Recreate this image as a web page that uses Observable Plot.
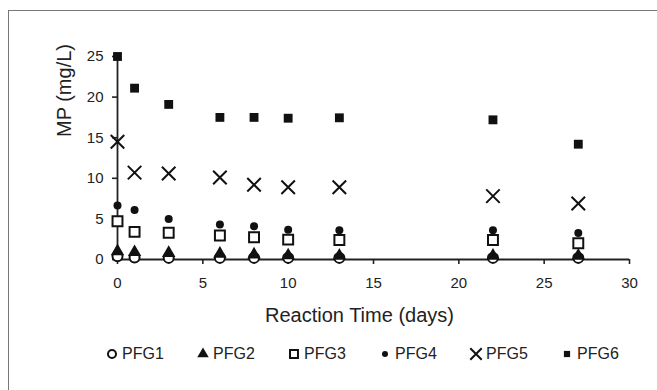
<!DOCTYPE html>
<html><head><meta charset="utf-8">
<script src="https://cdn.jsdelivr.net/npm/d3@7"></script>
<script src="https://cdn.jsdelivr.net/npm/@observablehq/plot@0.6"></script>
<style>
body{margin:0;background:#fff;font-family:"Liberation Sans",Arial,sans-serif;}
#wrap{position:relative;width:657px;height:390px;overflow:hidden;background:#fff;}
#frame{position:absolute;left:8px;top:10px;width:700px;height:420px;border-left:1.5px solid #777;border-top:1.5px solid #777;pointer-events:none;}
#chart{position:absolute;left:0;top:0;}
#legend{position:absolute;left:0;top:344px;width:657px;height:20px;font-size:16px;color:#222;}
.item{position:absolute;top:0;display:flex;align-items:center;height:20px;gap:3px;white-space:nowrap;}
</style></head><body>
<div id="wrap"><div id="chart"></div><div id="legend"></div><div id="frame"></div></div>
<script>
// ---- data ----
const days = [0, 1, 3, 6, 8, 10, 13, 22, 27];
const series = ["PFG1", "PFG2", "PFG3", "PFG4", "PFG5", "PFG6"];
const pfg1 = [0.4, 0.25, 0.2, 0.2, 0.2, 0.2, 0.2, 0.2, 0.2];
const pfg2 = [1.0, 0.9, 0.8, 0.7, 0.6, 0.5, 0.45, 0.45, 0.45];
const pfg3 = [4.7, 3.4, 3.3, 2.95, 2.75, 2.45, 2.4, 2.4, 2.0];
const pfg4 = [6.65, 6.1, 5.0, 4.3, 4.1, 3.65, 3.6, 3.6, 3.25];
const pfg5 = [14.5, 10.7, 10.6, 10.1, 9.2, 8.9, 8.9, 7.8, 6.9];
const pfg6 = [25, 21.1, 19.1, 17.5, 17.5, 17.4, 17.45, 17.2, 14.2];
const xTicks = [0, 5, 10, 15, 20, 25, 30];
const yTicks = [0, 5, 10, 15, 20, 25];
const xLabel = "Reaction Time (days)";
const yLabel = "MP (mg/L)";

const values = [pfg1, pfg2, pfg3, pfg4, pfg5, pfg6];
const data = series.flatMap((s, i) => days.map((d, j) => ({series: s, day: d, mp: values[i][j]})));

const styles = {
  PFG1: {symbol: "circle", fill: "white", stroke: "#111", r: 5, strokeWidth: 2},
  PFG2: {symbol: "triangle", fill: "#111", stroke: "none", r: 5, strokeWidth: 0},
  PFG3: {symbol: "square", fill: "white", stroke: "#111", r: 5.6, strokeWidth: 2},
  PFG4: {symbol: "circle", fill: "#111", stroke: "none", r: 4, strokeWidth: 0},
  PFG5: {symbol: "times", fill: "none", stroke: "#111", r: 6.2, strokeWidth: 2},
  PFG6: {symbol: "square", fill: "#111", stroke: "none", r: 5, strokeWidth: 0}
};

const ink = "#222";
const marks = [
  Plot.ruleY([0], {stroke: ink, strokeWidth: 1.8}),
  Plot.ruleX([0], {stroke: ink, strokeWidth: 1.8}),
  Plot.axisX(xTicks, {tickSize: 5, tickPadding: 13, stroke: ink, strokeWidth: 1.6, fill: ink, label: null, fontSize: 15}),
  Plot.axisY(yTicks, {tickSize: 5, tickPadding: 9, stroke: ink, strokeWidth: 1.6, fill: ink, label: null, fontSize: 15}),
  Plot.text([xLabel], {frameAnchor: "bottom", dy: 62, dx: -14, fontSize: 20, fill: ink}),
  Plot.text([yLabel], {frameAnchor: "left", rotate: -90, dx: -53, dy: -21, fontSize: 20, fill: ink})
];
for (const s of series) {
  const st = styles[s];
  marks.push(Plot.dot(data.filter(d => d.series === s), {
    x: "day", y: "mp", symbol: () => st.symbol, r: st.r,
    fill: st.fill, stroke: st.stroke, strokeWidth: st.strokeWidth
  }));
}

const chart = Plot.plot({
  width: 657, height: 335,
  marginLeft: 117, marginRight: 28, marginTop: 56, marginBottom: 76,
  style: {fontFamily: "'Liberation Sans', Arial, sans-serif", fontSize: "15px", background: "transparent", overflow: "visible"},
  x: {domain: [0, 30]},
  y: {domain: [0, 25]},
  symbol: {type: "identity"},
  marks
});
document.getElementById("chart").appendChild(chart);

// legend
const legend = document.getElementById("legend");
const symMap = {circle: d3.symbolCircle, triangle: d3.symbolTriangle, square: d3.symbolSquare, times: d3.symbolTimes};
const legendScale = {PFG1: 0.8, PFG2: 0.85, PFG3: 0.8, PFG4: 0.75, PFG5: 0.85, PFG6: 0.7};
series.forEach((s, i) => {
  const st = styles[s];
  const rr = st.r * legendScale[s];
  const path = d3.symbol(symMap[st.symbol], Math.PI * rr * rr)();
  const item = document.createElement("div");
  item.className = "item";
  item.style.left = (105 + i * 91) + "px";
  item.innerHTML = `<svg width="14" height="14" viewBox="-7 -7 14 14"><path d="${path}" fill="${st.fill}" stroke="${st.stroke}" stroke-width="${st.strokeWidth}"/></svg><span>${s}</span>`;
  legend.appendChild(item);
});
</script>
</body></html>
